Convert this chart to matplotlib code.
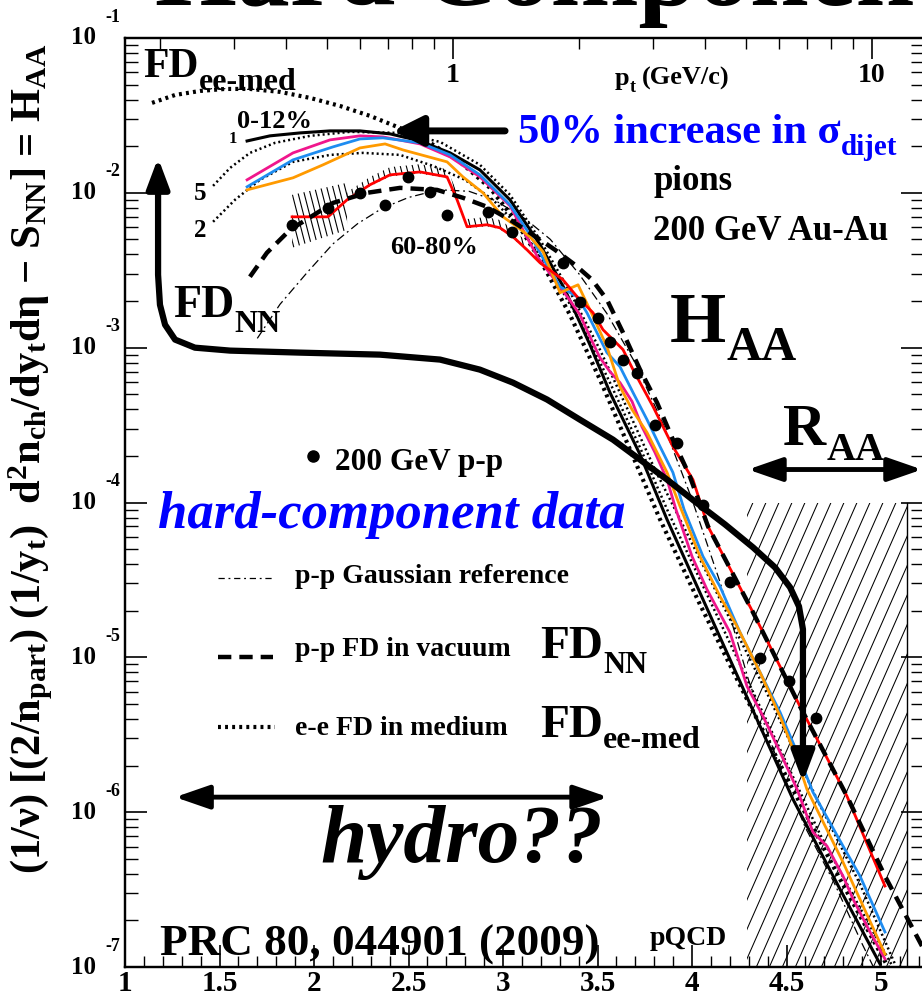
import numpy as np
import matplotlib
matplotlib.use('Agg')
import matplotlib.pyplot as plt
from matplotlib.lines import Line2D
from matplotlib.patches import Polygon, Rectangle
from matplotlib.collections import LineCollection
from matplotlib.ticker import MultipleLocator, LogLocator, NullFormatter, FixedLocator
import matplotlib.transforms as mtrans

plt.rcParams['font.family'] = ['Liberation Serif', 'DejaVu Serif']
plt.rcParams['font.weight'] = 'bold'
plt.rcParams['mathtext.fontset'] = 'custom'
plt.rcParams['mathtext.rm'] = 'Liberation Serif:bold'
plt.rcParams['mathtext.it'] = 'Liberation Serif:bold:italic'
plt.rcParams['mathtext.bf'] = 'Liberation Serif:bold'
plt.rcParams['mathtext.default'] = 'rm'

# ---------------- data (y_t, log10 H_AA) ----------------
ee_top_yt = [1.143, 1.265, 1.397, 1.529, 1.661, 1.820, 1.979, 2.138, 2.296, 2.455, 2.614, 2.772,
             2.931, 3.063, 3.196, 3.354, 3.513, 3.672, 3.831, 4.042, 4.291, 4.519, 4.783, 5.037]
ee_top_lg = [-1.419, -1.368, -1.342, -1.329, -1.329, -1.348, -1.387, -1.439, -1.503, -1.581, -1.677, -1.800,
             -1.968, -2.174, -2.432, -2.787, -3.206, -3.658, -4.110, -4.658, -5.271, -5.819, -6.432, -7.0]

solid1_yt = [1.646, 1.767, 1.926, 2.085, 2.243, 2.402, 2.561, 2.720, 2.878, 3.037, 3.196, 3.328, 3.460,
             3.566, 3.725, 3.868, 4.058, 4.296, 4.534, 4.783, 4.995]
solid1_lg = [-1.665, -1.632, -1.613, -1.600, -1.600, -1.619, -1.665, -1.742, -1.852, -2.045, -2.335, -2.626,
             -2.981, -3.290, -3.690, -4.110, -4.626, -5.271, -5.916, -6.497, -6.981]

ee5_yt = [1.466, 1.556, 1.661, 1.794, 1.979, 2.190, 2.455, 2.667, 2.878, 3.037, 3.196, 3.354, 3.513,
          3.672, 3.804, 3.937, 4.175, 4.413, 4.661, 4.889, 5.074]
ee5_lg = [-1.955, -1.839, -1.742, -1.677, -1.632, -1.606, -1.613, -1.671, -1.819, -2.013, -2.303, -2.639,
          -3.013, -3.432, -3.787, -4.110, -4.690, -5.271, -5.916, -6.465, -6.981]

ee2_yt = [1.466, 1.582, 1.714, 1.889, 2.085, 2.259, 2.455, 2.630, 2.799, 2.947, 3.090, 3.249, 3.407,
          3.566, 3.725, 3.873, 4.042, 4.254, 4.466, 4.677, 4.878, 4.995, 5.063]
ee2_lg = [-2.187, -2.045, -1.916, -1.800, -1.755, -1.742, -1.755, -1.826, -1.916, -2.045, -2.226, -2.497,
          -2.832, -3.226, -3.645, -4.058, -4.497, -5.045, -5.594, -6.142, -6.594, -6.852, -7.0]

magenta_yt = [1.646, 1.889, 2.085, 2.243, 2.365, 2.561, 2.720, 2.878, 3.037, 3.185, 3.265, 3.344, 3.407,
              3.460, 3.513, 3.566, 3.619, 3.683, 3.735, 3.804, 3.868, 3.915, 4.000, 4.079, 4.201, 4.291,
              4.376, 4.466, 4.556, 4.640, 4.714, 4.799, 4.852, 4.942, 5.021]
magenta_lg = [-1.916, -1.742, -1.658, -1.632, -1.639, -1.684, -1.768, -1.897, -2.084, -2.419, -2.548, -2.677,
              -2.787, -2.929, -3.065, -3.155, -3.226, -3.348, -3.510, -3.677, -3.852, -4.045, -4.348, -4.561,
              -4.839, -5.187, -5.381, -5.613, -5.852, -6.129, -6.219, -6.413, -6.561, -6.774, -6.948]

blue_yt = [1.646, 1.889, 2.101, 2.243, 2.365, 2.561, 2.720, 2.878, 3.037, 3.143, 3.222, 3.302, 3.392,
           3.444, 3.497, 3.550, 3.619, 3.688, 3.762, 3.831, 3.899, 3.958, 4.058, 4.148, 4.254, 4.360,
           4.466, 4.556, 4.640, 4.799, 4.889, 5.021]
blue_lg = [-1.961, -1.787, -1.703, -1.652, -1.645, -1.677, -1.755, -1.884, -2.077, -2.271, -2.445, -2.606,
           -2.671, -2.774, -2.903, -3.032, -3.123, -3.290, -3.465, -3.639, -3.806, -4.045, -4.348, -4.542,
           -4.839, -5.097, -5.355, -5.613, -5.871, -6.219, -6.413, -6.774]

orange_yt = [1.646, 1.889, 2.048, 2.243, 2.376, 2.471, 2.704, 2.788, 2.894, 3.000, 3.074, 3.143, 3.212,
             3.302, 3.397, 3.460, 3.550, 3.619, 3.683, 3.762, 3.868, 3.937, 4.042, 4.148, 4.238, 4.360,
             4.466, 4.556, 4.608, 4.799, 5.021]
orange_lg = [-1.981, -1.903, -1.819, -1.710, -1.684, -1.723, -1.800, -1.897, -2.000, -2.155, -2.219, -2.284,
             -2.381, -2.645, -2.594, -2.755, -2.994, -3.252, -3.400, -3.548, -3.806, -4.026, -4.348, -4.606,
             -4.800, -5.097, -5.381, -5.658, -5.852, -6.323, -6.916]

red_yt = [1.884, 2.074, 2.175, 2.296, 2.402, 2.561, 2.704, 2.757, 2.810, 2.915, 2.984, 3.053, 3.127,
          3.196, 3.317, 3.392, 3.476, 3.529, 3.582, 3.635, 3.688, 3.794, 3.899, 4.005, 4.085, 4.323,
          4.571, 4.820, 5.021]
red_lg = [-2.155, -2.155, -2.045, -1.948, -1.884, -1.865, -1.897, -2.045, -2.219, -2.206, -2.226, -2.284,
          -2.368, -2.452, -2.561, -2.671, -2.774, -2.884, -2.948, -3.013, -3.142, -3.381, -3.639, -3.852,
          -4.155, -4.710, -5.316, -5.897, -6.477]

ppfd_yt = [1.661, 1.751, 1.873, 2.101, 2.280, 2.455, 2.651, 2.788, 2.915, 3.037, 3.143, 3.275, 3.381,
           3.471, 3.550, 3.635, 3.725, 3.815, 3.899, 3.989, 4.085, 4.323, 4.571, 4.820, 5.021, 5.217]
ppfd_lg = [-2.542, -2.387, -2.239, -2.065, -2.000, -1.968, -1.981, -2.032, -2.090, -2.174, -2.258, -2.368,
           -2.465, -2.561, -2.690, -2.903, -3.142, -3.355, -3.594, -3.832, -4.155, -4.710, -5.316, -5.897,
           -6.413, -6.865]

gauss_yt = [1.70, 1.82, 1.96, 2.10, 2.23, 2.36, 2.50, 2.66, 2.82, 2.96, 3.12, 3.25, 3.40, 3.55, 3.70,
            3.85, 4.00, 4.15, 4.30, 4.45, 4.60, 4.75, 4.90, 4.96]
gauss_lg = [-2.94, -2.72, -2.52, -2.33, -2.20, -2.10, -2.03, -1.98, -1.99, -2.05, -2.17, -2.30, -2.52,
            -2.78, -3.10, -3.50, -3.98, -4.52, -5.15, -5.66, -6.10, -6.45, -6.85, -7.0]

pp_yt = [1.884, 2.074, 2.243, 2.376, 2.497, 2.614, 2.704, 2.921, 3.048, 3.317, 3.407, 3.503, 3.566,
         3.635, 3.709, 3.804, 3.921, 4.058, 4.201, 4.360, 4.513, 4.656]
pp_lg = [-2.206, -2.097, -2.000, -2.077, -1.897, -1.994, -2.142, -2.123, -2.252, -2.452, -2.703, -2.806,
         -2.961, -3.077, -3.161, -3.497, -3.613, -4.013, -4.516, -5.006, -5.155, -5.394]

# annotation geometry (y_t, log10 H)
hydro_path_yt = [1.175, 1.175, 1.185, 1.212, 1.265, 1.370, 1.556, 1.926, 2.349, 2.667, 2.878, 3.053, 3.233,
                 3.407, 3.582, 3.725, 3.868, 4.016, 4.175, 4.323, 4.439, 4.519, 4.566, 4.587, 4.587, 4.587]
hydro_path_lg = [-1.948, -2.529, -2.723, -2.852, -2.948, -3.000, -3.019, -3.032, -3.045, -3.077, -3.142,
                 -3.226, -3.335, -3.465, -3.594, -3.723, -3.852, -3.994, -4.142, -4.290, -4.419, -4.548,
                 -4.671, -4.819, -4.948, -5.658]
small_hatch_yt = [1.884, 2.175, 2.175, 1.884]
small_hatch_lg = [-2.013, -1.935, -2.239, -2.355]
raa_region = (4.29, 5.138, -7.0, -4.0)   # y_t from, to, log10 H from, to

xtick_vals = [1, 1.5, 2, 2.5, 3, 3.5, 4, 4.5, 5]
xtick_labels = ['1', '1.5', '2', '2.5', '3', '3.5', '4', '4.5', '5']
ytick_exps = [-7, -6, -5, -4, -3, -2, -1]
pt_ticks = [1, 10]
pt_labels = ['1', '10']
YT_AT_PT1, YT_PER_DECADE = 2.735, 2.217   # top p_t axis is logarithmic in p_t

# ---------------- figure ----------------
W, H = 922, 996
fig = plt.figure(figsize=(W / 100, H / 100), dpi=100)
renderer = fig.canvas.get_renderer()
L, R, T, B = 125, 923, 38, 967
ax = fig.add_axes([L / W, 1 - B / H, (R - L) / W, (B - T) / H])
XMIN, XMAX = 1.0, 1.0 + (R - L) / 189.0
ax.set_xlim(XMIN, XMAX)
ax.set_yscale('log')
ax.set_ylim(1e-7, 1e-1)

def P(yt, lg):
    return np.asarray(yt), 10.0 ** np.asarray(lg)

def ftext(px, py, s, size, **kw):
    kw.setdefault('ha', 'left')
    kw.setdefault('va', 'baseline')
    return fig.text(px / W, 1 - py / H, s, fontsize=size, **kw)

def ftext_sub(px, py, s, size, sub, subsize, py_sub, gap=1, **kw):
    t = ftext(px, py, s, size, **kw)
    ext = t.get_window_extent(renderer)
    ftext(ext.x1 + gap, py_sub, sub, subsize, **kw)
    return t

# ---- hatching ----
def hatch(clip_patch, x0, x1, lg0, lg1, slope, step, lw=0.8):
    ax.add_patch(clip_patch)
    span = (lg1 - lg0) / abs(slope)
    segs = []
    for c in np.arange(x0 - span - step, x1 + span + step, step):
        if slope > 0:
            segs.append([(c, 10 ** lg0), (c + span, 10 ** lg1)])
        else:
            segs.append([(c, 10 ** lg1), (c + span, 10 ** lg0)])
    lc = LineCollection(segs, colors='k', linewidths=lw, zorder=1)
    ax.add_collection(lc)
    lc.set_clip_path(clip_patch)

x0, x1, g0, g1 = raa_region
rect = Rectangle((x0, 10 ** g0), x1 - x0, 10 ** g1 - 10 ** g0, transform=ax.transData,
                 facecolor='none', edgecolor='none')
hatch(rect, x0, x1, g0 - 0.1, g1 + 0.1, 2.77, 0.0688, lw=0.75)
ax.plot([x1, x1], [10 ** g0, 10 ** g1], color='k', lw=1.0, zorder=1)

sx, sy = P(small_hatch_yt, small_hatch_lg)
poly = Polygon(np.column_stack([sx, sy]), closed=True, transform=ax.transData,
               facecolor='none', edgecolor='none')
hatch(poly, 1.85, 2.2, -2.45, -1.9, -4.75, 0.032, lw=0.8)
rx = np.array(red_yt[2:13]); rl = np.array(red_lg[2:13])
band = np.column_stack([np.concatenate([rx, rx[::-1]]),
                        10 ** np.concatenate([rl + 0.05, (rl - 0.01)[::-1]])])
poly2 = Polygon(band, closed=True, transform=ax.transData, facecolor='none', edgecolor='none')
hatch(poly2, 2.15, 3.15, -2.5, -1.8, -4.75, 0.032, lw=0.8)

# ---- curves ----
ax.plot(*P(ee_top_yt, ee_top_lg), color='k', lw=3.0, ls=(0, (0.7, 1.0)), zorder=2)
ax.plot(*P(ee5_yt, ee5_lg), color='k', lw=1.8, ls=(0, (0.8, 1.2)), zorder=2)
ax.plot(*P(ee2_yt, ee2_lg), color='k', lw=1.8, ls=(0, (0.8, 1.2)), zorder=2)
ax.plot(*P(solid1_yt, solid1_lg), color='k', lw=2.2, zorder=3)
ax.plot(*P(gauss_yt, gauss_lg), color='k', lw=0.9, ls=(0, (7, 3, 1.5, 3)), zorder=3)
ax.plot(*P(magenta_yt, magenta_lg), color='#f0168c', lw=2.0, zorder=4)
ax.plot(*P(blue_yt, blue_lg), color='#1e8cf0', lw=2.0, zorder=4)
ax.plot(*P(orange_yt, orange_lg), color='#ff9a00', lw=2.0, zorder=4)
ax.plot(*P(red_yt, red_lg), color='#ff0000', lw=2.0, zorder=4)
ax.plot(*P(ppfd_yt, ppfd_lg), color='k', lw=3.2, ls=(0, (3.0, 1.8)), zorder=5)
ax.plot(*P(pp_yt, pp_lg), ls='none', marker='o', ms=7.5, color='k', zorder=6)

# ---- hydro arrow ----
hx, hy = P(hydro_path_yt, hydro_path_lg)
ax.plot(hx, hy, color='k', lw=4.5, solid_capstyle='butt', solid_joinstyle='round', zorder=7)
ax.annotate('', xy=(hx[0], 10 ** -1.774), xytext=(hx[0], hy[0]),
            arrowprops=dict(arrowstyle='-|>,head_length=1.2,head_width=0.45', color='k', lw=4.5,
                            mutation_scale=15, shrinkA=0, shrinkB=0), zorder=7)
ax.annotate('', xy=(hx[-1], 10 ** -5.806), xytext=(hx[-1], hy[-1]),
            arrowprops=dict(arrowstyle='-|>,head_length=1.2,head_width=0.45', color='k', lw=4.5,
                            mutation_scale=15, shrinkA=0, shrinkB=0), zorder=7)
# 50% arrow
ax.annotate('', xy=(2.418, 10 ** -1.600), xytext=(3.011, 10 ** -1.600),
            arrowprops=dict(arrowstyle='-|>,head_length=1.0,head_width=0.5', color='k', lw=5,
                            mutation_scale=18, shrinkA=0, shrinkB=0), zorder=7)
# hydro double arrow
ax.annotate('', xy=(1.265, 10 ** -5.903), xytext=(3.556, 10 ** -5.903),
            arrowprops=dict(arrowstyle='<|-|>,head_length=1.3,head_width=0.45', color='k', lw=3.5,
                            mutation_scale=16, shrinkA=0, shrinkB=0), zorder=7)
# R_AA double arrow
ax.annotate('', xy=(4.296, 10 ** -3.787), xytext=(5.217, 10 ** -3.787),
            arrowprops=dict(arrowstyle='<|-|>,head_length=1.3,head_width=0.45', color='k', lw=3.5,
                            mutation_scale=16, shrinkA=0, shrinkB=0), zorder=7)

# ---- axes styling ----
for s in ax.spines.values():
    s.set_linewidth(1.6)
ax.set_xticks(xtick_vals)
ax.set_xticklabels(xtick_labels, fontsize=21)
ax.xaxis.set_minor_locator(MultipleLocator(0.1))
ax.yaxis.set_major_locator(FixedLocator([10.0 ** e for e in ytick_exps]))
ax.yaxis.set_minor_locator(LogLocator(base=10, subs=np.arange(2, 10)))
ax.yaxis.set_major_formatter(NullFormatter())
ax.yaxis.set_minor_formatter(NullFormatter())
ax.tick_params(axis='x', which='major', direction='in', length=16, width=1.2, pad=2, top=False)
ax.tick_params(axis='x', which='minor', direction='in', length=8, width=1.0, top=False)
ax.tick_params(axis='y', which='major', direction='in', length=16, width=1.2, right=True)
ax.tick_params(axis='y', which='minor', direction='in', length=9, width=1.0, right=True)

ax2 = ax.twiny()
ax2.set_xscale('log')
ax2.set_xlim(10 ** ((XMIN - YT_AT_PT1) / YT_PER_DECADE), 10 ** ((XMAX - YT_AT_PT1) / YT_PER_DECADE))
ax2.xaxis.set_major_locator(FixedLocator(pt_ticks))
ax2.xaxis.set_minor_locator(LogLocator(base=10, subs=np.arange(2, 10)))
ax2.xaxis.set_major_formatter(NullFormatter())
ax2.xaxis.set_minor_formatter(NullFormatter())
ax2.tick_params(axis='x', which='major', direction='in', length=15, width=1.2)
ax2.tick_params(axis='x', which='minor', direction='in', length=8, width=1.0)
for s in ax2.spines.values():
    s.set_linewidth(1.6)
tr_top = ax2.get_xaxis_transform()
for v, lab in zip(pt_ticks, pt_labels):
    ax2.text(v, 1 - (82 - T) / (B - T), lab, transform=tr_top, ha='center', va='baseline', fontsize=20)

# y tick labels 10^e
tr_y = mtrans.blended_transform_factory(fig.transFigure, ax.transData)
tr_exp = mtrans.offset_copy(tr_y, fig=fig, x=0, y=21, units='dots')
for e in ytick_exps:
    fig.text(96 / W, 10.0 ** e, '10', transform=tr_y, ha='right', va='center', fontsize=18)
    fig.text(105 / W, 10.0 ** e, '%d' % e, transform=tr_exp, ha='left', va='center', fontsize=13)

# ---- texts ----
ftext(155, 5, 'Hard Component', 76)
fig.text(31 / W, 1 - 459 / H,
         r'(1/ν) [(2/n$_{\mathrm{part}}$) (1/y$_{\mathrm{t}}$)  d$^{\mathrm{2}}$n$_{\mathrm{ch}}$/dy$_{\mathrm{t}}$dη − S$_{\mathrm{NN}}$] = H$_{\mathrm{AA}}$',
         rotation=90, ha='center', va='center', fontsize=30.5)
ftext_sub(615, 85, 'p', 19, 't', 13, 92, gap=0); ftext(642, 85, '(GeV/c)', 19)
ftext_sub(143, 77, 'FD', 30, 'ee-med', 23, 90, gap=0)
ftext(237, 128, '0-12%', 19)
ftext(229, 143, '1', 12)
ftext(194, 200, '5', 18)
ftext(194, 237, '2', 18)
ftext(390, 254, '60-80%', 19)
ftext_sub(173, 317, 'FD', 33, 'NN', 23, 332, gap=0)
ftext_sub(518, 143, '50% increase in σ', 30.5, 'dijet', 21, 155, gap=0, color='#0000ff')
ftext(653, 190, 'pions', 25)
ftext(653, 240, '200 GeV Au-Au', 25)
ftext_sub(670, 342, 'H', 52, 'AA', 35, 360, gap=0)
ftext_sub(783, 445, 'R', 43, 'AA', 29, 460, gap=0)
fig.add_artist(Line2D([313 / W], [1 - 456 / H], marker='o', ms=8, color='k', transform=fig.transFigure))
ftext(335, 470, '200 GeV p-p', 22.5)
ftext(158, 528, 'hard-component data', 38, color='#0000ff', style='italic')
ftext(295, 583, 'p-p Gaussian reference', 20)
ftext(295, 656, 'p-p FD in vacuum', 20)
ftext(295, 735, 'e-e FD in medium', 20)
ftext_sub(540, 658, 'FD', 34, 'NN', 22, 673, gap=0)
ftext_sub(540, 737, 'FD', 34, 'ee-med', 23, 748, gap=0)
ftext(320, 862, 'hydro??', 60, style='italic')
ftext(160, 956, 'PRC 80, 044901 (2009)', 32.5)
ftext(650, 945, 'pQCD', 20)

# legend samples
fig.add_artist(Line2D([218 / W, 272 / W], [1 - 578 / H] * 2, color='k', lw=0.9,
                      ls=(0, (5, 3, 1.5, 3)), transform=fig.transFigure))
fig.add_artist(Line2D([218 / W, 273 / W], [1 - 657 / H] * 2, color='k', lw=3.2,
                      ls=(0, (3.0, 1.8)), transform=fig.transFigure))
fig.add_artist(Line2D([218 / W, 275 / W], [1 - 727 / H] * 2, color='k', lw=3.0,
                      ls=(0, (0.7, 1.0)), transform=fig.transFigure))

fig.savefig('out.png', dpi=100)
